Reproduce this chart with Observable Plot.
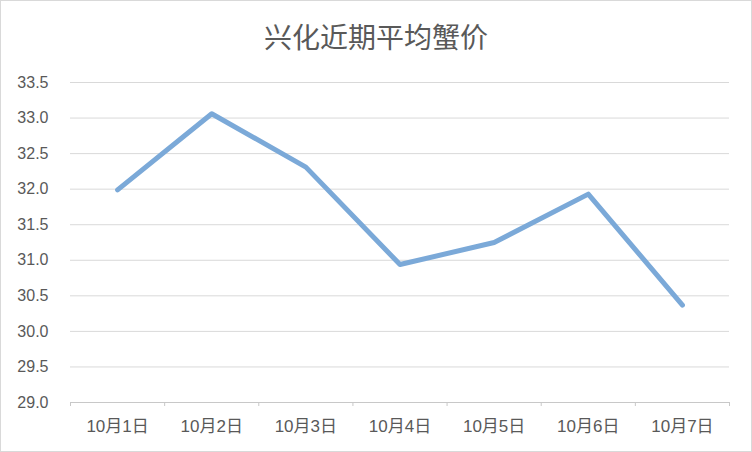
<!DOCTYPE html>
<html>
<head>
<meta charset="utf-8">
<script src="https://cdn.jsdelivr.net/npm/d3@7"></script>
<script src="https://cdn.jsdelivr.net/npm/@observablehq/plot@0.6"></script>
<style>
  html, body { margin: 0; padding: 0; background: #fff; }
  #wrap { position: relative; width: 752px; height: 452px; background: #fff; }
  #wrap svg { position: absolute; left: 0; top: 0; }
  #title { position: absolute; left: 0; top: 0; width: 752px; height: 72px; line-height: 72px; text-align: center;
    font-family: "Noto Sans CJK SC", sans-serif; font-size: 28px; color: #595959; font-weight: 400; }
  #border { position: absolute; left: 0; top: 0; width: 752px; height: 452px; box-sizing: border-box; border: 1px solid #d9d9d9; pointer-events: none; }
</style>
</head>
<body>
<div id="wrap">
  <div id="title"></div>
  <div id="border"></div>
</div>
<script>
const title = "兴化近期平均蟹价";
const dates = ["10月1日", "10月2日", "10月3日", "10月4日", "10月5日", "10月6日", "10月7日"];
const prices = [31.99, 33.06, 32.31, 30.94, 31.25, 31.93, 30.37];
const yTicks = [29.0, 29.5, 30.0, 30.5, 31.0, 31.5, 32.0, 32.5, 33.0, 33.5];

const data = dates.map((d, i) => ({i, date: d, price: prices[i]}));
const boundaries = d3.range(dates.length + 1).map(k => k - 0.5);

document.getElementById("title").textContent = title;

const chart = Plot.plot({
  width: 752,
  height: 452,
  marginTop: 82,
  marginBottom: 50,
  marginLeft: 70,
  marginRight: 23,
  style: {fontFamily: '"Liberation Sans", "Noto Sans CJK SC", sans-serif', fontSize: "16px", color: "#595959", background: "transparent"},
  x: {type: "linear", domain: [-0.5, dates.length - 0.5]},
  y: {domain: [yTicks[0], yTicks[yTicks.length - 1]]},
  marks: [
    Plot.gridY(yTicks.slice(1), {stroke: "#d9d9d9", strokeOpacity: 1, strokeWidth: 1}),
    Plot.ruleY([yTicks[0]], {stroke: "#c8c8c8", strokeWidth: 1}),
    Plot.axisY({ticks: yTicks, tickFormat: d3.format(".1f"), tickSize: 0, tickPadding: 22, label: null, fill: "#595959", fontSize: 16}),
    Plot.axisX({ticks: boundaries, tickFormat: () => "", tickSize: 4, stroke: "#c8c8c8", label: null}),
    Plot.axisX({ticks: d3.range(dates.length), tickFormat: k => dates[k], tickSize: 0, tickPadding: 17, label: null, fill: "#595959", fontSize: 17}),
    Plot.line(data, {x: "i", y: "price", stroke: "#7ba9d8", strokeWidth: 5, strokeLinejoin: "round", strokeLinecap: "round"})
  ]
});
document.getElementById("wrap").insertBefore(chart, document.getElementById("title"));
</script>
</body>
</html>
